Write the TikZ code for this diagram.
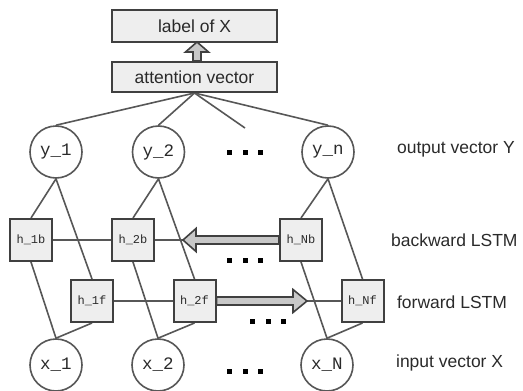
\documentclass[tikz,border=0pt]{standalone}
\usepackage{fontspec}
\setmainfont{Liberation Sans}
\setmonofont{Liberation Mono}
\usetikzlibrary{calc,backgrounds}
\definecolor{edgegray}{HTML}{575757}
\definecolor{boxgray}{HTML}{EEEEEE}
\definecolor{arrgray}{HTML}{C8C8C8}
\definecolor{txtgray}{HTML}{2A2A2A}
\newcommand{\sqdots}{\rule{5pt}{5pt}\hspace{10.5pt}\rule{5pt}{5pt}\hspace{10.5pt}\rule{5pt}{5pt}}

\begin{document}
\begin{tikzpicture}[x=1pt,y=-1pt,
    every path/.style={line width=1.6pt},
    conn/.style={draw=edgegray},
    topbox/.style={draw=black!75,fill=boxgray,line width=2pt,minimum width=165pt,inner sep=0pt,text=txtgray,font=\fontsize{17.5}{19}\selectfont},
    cell/.style={draw=black!75,fill=boxgray,line width=2pt,minimum size=42pt,inner sep=0pt,text=txtgray,font=\ttfamily\fontsize{12}{13}\selectfont},
    unit/.style={circle,draw=edgegray,fill=white,minimum size=52pt,inner sep=0pt,text=txtgray,font=\ttfamily\fontsize{17.5}{19}\selectfont},
    side/.style={anchor=west,text=txtgray,font=\fontsize{17.5}{19}\selectfont},
    blockarr/.style={draw=black!75,fill=arrgray,line width=1.6pt,line join=miter}]
  \useasboundingbox (0,0) rectangle (523,391);
  \node[topbox,minimum height=32pt] (label) at (194.5,26) {label of X};
  \node[topbox,minimum height=30pt] (attn) at (194.5,77) {attention vector};
  \node[unit] (y1) at (56,152) {y\_1};
  \node[unit] (y2) at (158.5,152) {y\_2};
  \node[unit] (yn) at (328,152) {y\_n};
  \node (ydots) at (245,152) {\sqdots};
  \coordinate (ad) at (245,128);
  \node[side] (outY) at (393,149) {output vector Y};
  \node[cell] (h1b) at (31,240) {h\_1b};
  \node[cell] (h2b) at (133,240) {h\_2b};
  \node[cell] (hNb) at (301,240) {h\_Nb};
  \node (bdots) at (245,260) {\sqdots};
  \node[side] (bwd) at (387,240) {backward LSTM};
  \node[cell] (h1f) at (92,301) {h\_1f};
  \node[cell] (h2f) at (194.5,301) {h\_2f};
  \node[cell] (hNf) at (362.5,301) {h\_Nf};
  \node (fdots) at (268,321) {\sqdots};
  \node[side] (fwd) at (393,302) {forward LSTM};
  \node[unit] (x1) at (56,365) {x\_1};
  \node[unit] (x2) at (158,365) {x\_2};
  \node[unit] (xN) at (327,365) {x\_N};
  \node (xdots) at (245,371) {\sqdots};
  \node[side] (inX) at (392,363) {input vector X};
  \coordinate (ut) at (197,42);
  \coordinate (bt) at (183,240);
  \coordinate (ft) at (307,301);
  \begin{scope}[on background layer]
  \draw[conn] (attn.south) -- (y1.north);
  \draw[conn] (attn.south) -- (y2.north);
  \draw[conn] (attn.south) -- (ad);
  \draw[conn] (attn.south) -- (yn.north);
  \draw[conn] (h1b.north) -- (y1.south) -- (h1f.north);
  \draw[conn] (h2b.north) -- (y2.south) -- (h2f.north);
  \draw[conn] (hNb.north) -- (yn.south) -- (hNf.north);
  \draw[conn] (h1b.south) -- (x1.north) -- (h1f.south);
  \draw[conn] (h2b.south) -- (x2.north) -- (h2f.south);
  \draw[conn] (hNb.south) -- (xN.north) -- (hNf.south);
  \draw[conn] (h1b) -- (h2b) -- (hNb);
  \draw[conn] (h1f) -- (h2f) -- (hNf);
  \end{scope}
  \draw[blockarr] ($(attn.north -| ut)+(-4,0)$) -- ($(ut)+(-4,10)$) -- ($(ut)+(-11.5,10)$) -- (ut)
    -- ($(ut)+(11.5,10)$) -- ($(ut)+(4,10)$) -- ($(attn.north -| ut)+(4,0)$) -- cycle;
  \draw[blockarr] ($(hNb.west)+(0,-4)$) -- ($(bt)+(13,-4)$) -- ($(bt)+(13,-11.5)$) -- (bt)
    -- ($(bt)+(13,11.5)$) -- ($(bt)+(13,4)$) -- ($(hNb.west)+(0,4)$) -- cycle;
  \draw[blockarr] ($(h2f.east)+(0,-4)$) -- ($(ft)+(-14,-4)$) -- ($(ft)+(-14,-11.5)$) -- (ft)
    -- ($(ft)+(-14,11.5)$) -- ($(ft)+(-14,4)$) -- ($(h2f.east)+(0,4)$) -- cycle;
\end{tikzpicture}
\end{document}
